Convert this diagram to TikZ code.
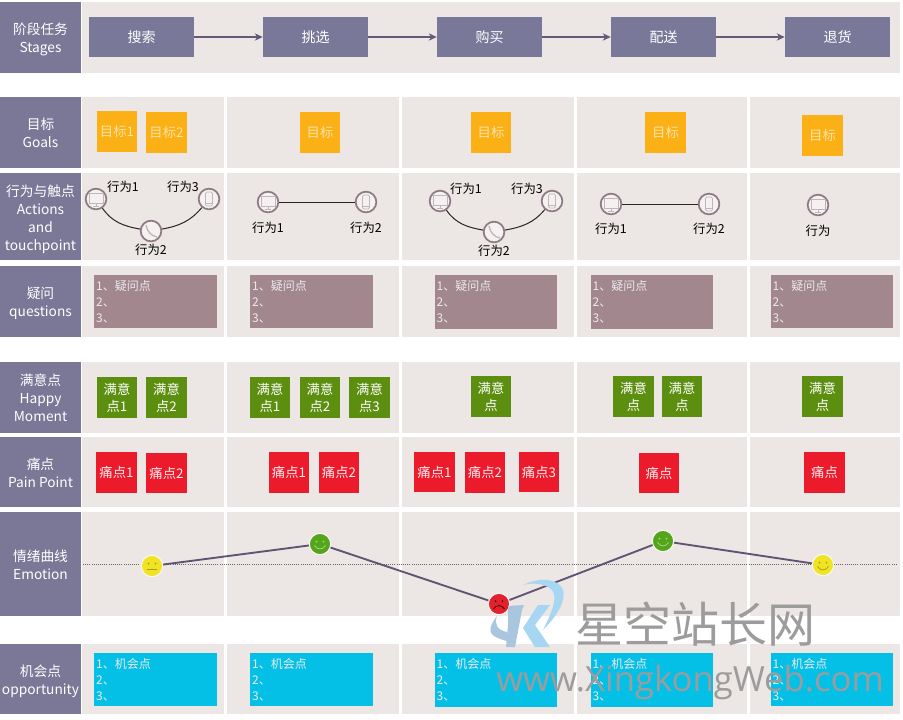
\documentclass[tikz,border=0pt]{standalone}
\usepackage{fontspec}
\setmainfont{Noto Sans CJK SC}
\newfontfamily\urlfont{Open Sans}
\usetikzlibrary{arrows.meta}
\definecolor{cLabel}{HTML}{7A7797}
\definecolor{cStage}{HTML}{7A7899}
\definecolor{cBand}{HTML}{ECE6E4}
\definecolor{cGoal}{HTML}{FBB116}
\definecolor{cGoalT}{HTML}{FBE2A6}
\definecolor{cQ}{HTML}{A2878F}
\definecolor{cHappy}{HTML}{5C8E10}
\definecolor{cPain}{HTML}{EC1B2B}
\definecolor{cOpp}{HTML}{05C0E6}
\definecolor{cLine}{HTML}{5F5472}
\definecolor{cRing}{HTML}{8C7A84}
\definecolor{cIcon}{HTML}{BDB6BA}
\definecolor{cYel}{HTML}{F0E324}
\definecolor{cGrn}{HTML}{55A51B}
\definecolor{cRed}{HTML}{E3202C}
\definecolor{cWm}{HTML}{9C9C9C}
\definecolor{cSw}{HTML}{A6D6F2}
\definecolor{cKk}{HTML}{A9C6DE}
\tikzset{
  x=0.75pt,y=-0.75pt,
  rowlabel/.style={text=white,align=center,font=\fontsize{10.3pt}{13.5pt}\selectfont,inner sep=0pt},
  stagebox/.style={fill=cStage,text=white,minimum width=78.75pt,minimum height=30pt,inner sep=0pt,font=\fontsize{10.5pt}{13pt}\selectfont},
  flowarrow/.style={draw=cLine!85!cStage,line width=1.3pt,-{Stealth[length=6pt,width=5.5pt]}},
  tile/.style={minimum width=30.5pt,minimum height=30.5pt,inner sep=0pt,align=center,font=\fontsize{10pt}{12.8pt}\selectfont},
  goalbox/.style={tile,fill=cGoal,text=cGoalT},
  happybox/.style={tile,fill=cHappy,text=white},
  painbox/.style={tile,fill=cPain,text=white!90!cPain},
  listbox/.style={minimum width=92pt,minimum height=40pt,inner xsep=1.5pt,inner ysep=0pt,text width=89pt,align=left,text=white!92!black,font=\fontsize{9pt}{12pt}\selectfont},
  qbox/.style={listbox,fill=cQ},
  oppbox/.style={listbox,fill=cOpp},
  touch/.style={circle,draw=cRing,fill=cBand!55!white,line width=1.3pt,minimum size=15.5pt,inner sep=0pt},
  action/.style={text=black,inner sep=0pt,font=\fontsize{9.3pt}{11pt}\selectfont},
  link/.style={draw=black!85,line width=0.75pt},
  face/.style={circle,minimum size=16pt,inner sep=0pt,draw=white!75!cBand,line width=0.8pt},
  emoline/.style={draw=cLine,line width=1.4pt},
  ico/.style={draw=cIcon,line width=0.55pt},
  feat/.style={line width=0.6pt},
}
\newcommand\icomon[1]{\begin{scope}[shift={(#1.center)}]
  \draw[ico] (-7,-6) rectangle (7,4); \draw[ico] (-3,7) -- (3,7); \draw[ico] (0,4) -- (0,7);
\end{scope}}
\newcommand\icomob[1]{\begin{scope}[shift={(#1.center)}]
  \draw[ico,rounded corners=1pt] (-3.5,-7) rectangle (3.5,7); \draw[ico] (-3.5,4.5) -- (3.5,4.5);
\end{scope}}
\newcommand\icotel[1]{\begin{scope}[shift={(#1.center)}]
  \draw[ico,line width=1pt] (-5,-6) .. controls (-4,0) and (0,5) .. (6,6);
\end{scope}}
\newcommand\facesmile[2]{\begin{scope}[shift={(#1.center)},#2]
  \fill (-3.5,-2.5) circle (1); \fill (3.5,-2.5) circle (1);
  \draw[feat] (-5.5,1.5) .. controls (-3,6) and (3,6) .. (5.5,1.5);
\end{scope}}
\newcommand\faceflat[2]{\begin{scope}[shift={(#1.center)},#2]
  \fill (-3.5,-2.5) circle (1); \fill (3.5,-2.5) circle (1);
  \draw[feat] (-5,3) -- (5,3);
\end{scope}}
\newcommand\facesad[2]{\begin{scope}[shift={(#1.center)},#2]
  \fill (-3.5,-3) circle (1); \fill (3.5,-3) circle (1);
  \draw[feat] (-5.5,5) .. controls (-3,0.5) and (3,0.5) .. (5.5,5);
\end{scope}}
\begin{document}
\begin{tikzpicture}
\useasboundingbox (0,0) rectangle (903,719);
\fill[white] (0,0) rectangle (903,719);

% cell backgrounds
\fill[cBand] (82,2) rectangle (900,73);
\foreach \ya/\yb in {97/168,173/260,266/337,362/433,437/507,512/616,644/714}{
  \foreach \xa/\xb in {82/224,227/399,402/574,577/747,750/900}{
    \fill[cBand] (\xa,\ya) rectangle (\xb,\yb);
  }
}

% row labels
\fill[cLabel] (0,2) rectangle node[rowlabel,yshift=-1.5pt] (lStages) {阶段任务\\Stages} (81,73);
\fill[cLabel] (0,97) rectangle node[rowlabel] (lGoals) {目标\\Goals} (81,168);
\fill[cLabel] (0,173) rectangle node[rowlabel,yshift=-2.2pt] (lActions) {行为与触点\\Actions\\and\\touchpoint} (81,260);
\fill[cLabel] (0,266) rectangle node[rowlabel,yshift=-1.5pt] (lQuestions) {疑问\\questions} (81,337);
\fill[cLabel] (0,362) rectangle node[rowlabel] (lHappy) {满意点\\Happy\\Moment} (81,433);
\fill[cLabel] (0,437) rectangle node[rowlabel,yshift=-0.75pt] (lPain) {痛点\\Pain Point} (81,507);
\fill[cLabel] (0,512) rectangle node[rowlabel,yshift=-0.75pt] (lEmotion) {情绪曲线\\Emotion} (81,616);
\fill[cLabel] (0,644) rectangle node[rowlabel,yshift=-1.5pt] (lOpp) {机会点\\opportunity} (81,714);

% stages
\node[stagebox] (s1) at (141.5,37) {\raisebox{-1pt}{搜索}};
\node[stagebox] (s2) at (315.5,37) {\raisebox{-1pt}{挑选}};
\node[stagebox] (s3) at (489.5,37) {\raisebox{-1pt}{购买}};
\node[stagebox] (s4) at (663.5,37) {\raisebox{-1pt}{配送}};
\node[stagebox] (s5) at (837.5,37) {\raisebox{-1pt}{退货}};
\draw[flowarrow] (s1) -- (s2);
\draw[flowarrow] (s2) -- (s3);
\draw[flowarrow] (s3) -- (s4);
\draw[flowarrow] (s4) -- (s5);

% goals
\node[goalbox] (g1) at (117,131.5) {目标1};
\node[goalbox] (g2) at (166.5,132.5) {目标2};
\node[goalbox] (g3) at (320,132.5) {目标};
\node[goalbox] (g4) at (491,132.5) {目标};
\node[goalbox] (g5) at (665.5,132.5) {目标};
\node[goalbox] (g6) at (822.5,135.5) {目标};

% actions
\node[touch] (a1) at (96,199) {};
\node[touch] (a2) at (151,231) {};
\node[touch] (a3) at (209,199) {};
\node[touch] (b1) at (268,202) {};
\node[touch] (b2) at (366,202) {};
\node[touch] (c1) at (440,201) {};
\node[touch] (c2) at (494,232) {};
\node[touch] (c3) at (552,201) {};
\node[touch] (d1) at (611,204) {};
\node[touch] (d2) at (709,204) {};
\node[touch] (e1) at (818,205) {};
\draw[link] (a1) to[out=-55,in=170] (a2);
\draw[link] (a2) to[out=10,in=-130] (a3);
\draw[link] (b1) -- (b2);
\draw[link] (c1) to[out=-55,in=170] (c2);
\draw[link] (c2) to[out=10,in=-130] (c3);
\draw[link] (d1) -- (d2);
\icomon{a1}\icotel{a2}\icomob{a3}
\icomon{b1}\icomob{b2}
\icomon{c1}\icotel{c2}\icomob{c3}
\icomon{d1}\icomob{d2}
\icomon{e1}
\node[action] (ta1) at (123,187) {行为1};
\node[action] (ta3) at (183,187) {行为3};
\node[action] (ta2) at (151,250) {行为2};
\node[action] (tb1) at (268,228) {行为1};
\node[action] (tb2) at (366,228) {行为2};
\node[action] (tc1) at (466,189) {行为1};
\node[action] (tc3) at (527,189) {行为3};
\node[action] (tc2) at (494,251) {行为2};
\node[action] (td1) at (611,229) {行为1};
\node[action] (td2) at (709,229) {行为2};
\node[action] (te1) at (818,231) {行为};

% questions
\node[qbox] (q1) at (155.5,301.5) {1、疑问点\\2、\\3、};
\node[qbox] (q2) at (311.5,301.5) {1、疑问点\\2、\\3、};
\node[qbox] (q3) at (496,302) {1、疑问点\\2、\\3、};
\node[qbox] (q4) at (652,302) {1、疑问点\\2、\\3、};
\node[qbox] (q5) at (832,301.5) {1、疑问点\\2、\\3、};

% happy moments
\node[happybox] (h1) at (117,397.5) {满意\\点1};
\node[happybox] (h2) at (166.5,397.5) {满意\\点2};
\node[happybox] (h3) at (270,397.5) {满意\\点1};
\node[happybox] (h4) at (320,397.5) {满意\\点2};
\node[happybox] (h5) at (369.5,397.5) {满意\\点3};
\node[happybox] (h6) at (491,396.5) {满意\\点};
\node[happybox] (h7) at (633.5,396.5) {满意\\点};
\node[happybox] (h8) at (682,396.5) {满意\\点};
\node[happybox] (h9) at (822.5,396.5) {满意\\点};

% pain points
\node[painbox] (p1) at (116.5,472.5) {痛点1};
\node[painbox] (p2) at (166.5,473) {痛点2};
\node[painbox] (p3) at (289,472.5) {痛点1};
\node[painbox] (p4) at (339,472.5) {痛点2};
\node[painbox] (p5) at (434.5,472) {痛点1};
\node[painbox] (p6) at (485,472.5) {痛点2};
\node[painbox] (p7) at (539,472) {痛点3};
\node[painbox] (p8) at (659,473) {痛点};
\node[painbox] (p9) at (824.5,472.5) {痛点};

% emotion
\coordinate (dotL) at (83,564.5);
\coordinate (dotR) at (896,564.5);
\draw[black!60,line width=0.6pt,densely dotted] (dotL) -- (dotR);
\node[face,fill=cYel] (f1) at (152,566) {};
\node[face,fill=cGrn] (f2) at (320,544) {};
\node[face,fill=cRed] (f3) at (499,604) {};
\node[face,fill=cGrn] (f4) at (663,541) {};
\node[face,fill=cYel] (f5) at (823,565) {};
\draw[emoline] (f1) -- (f2);
\draw[emoline] (f2) -- (f3);
\draw[emoline] (f3) -- (f4);
\draw[emoline] (f4) -- (f5);
\faceflat{f1}{draw=cYel!70!black,fill=cYel!70!black}
\facesmile{f2}{draw=cGrn!50!white,fill=cGrn!50!white}
\facesad{f3}{draw=black!70!cRed,fill=black!70!cRed}
\facesmile{f4}{draw=cGrn!50!white,fill=cGrn!50!white}
\facesmile{f5}{draw=cYel!70!black,fill=cYel!70!black}

% opportunities
\node[oppbox] (o1) at (155.5,679.5) {1、机会点\\2、\\3、};
\node[oppbox] (o2) at (311.5,679.5) {1、机会点\\2、\\3、};
\node[oppbox] (o3) at (496,680) {1、机会点\\2、\\3、};
\node[oppbox] (o4) at (652,680) {1、机会点\\2、\\3、};
\node[oppbox] (o5) at (832,679.5) {1、机会点\\2、\\3、};

% watermark logo
\fill[cSw] (523,585) .. controls (540,577) and (558,578) .. (563,590)
  .. controls (566,600) and (558,615) .. (543,630)
  .. controls (552,612) and (558,598) .. (552,590)
  .. controls (546,584) and (534,582) .. (523,585) -- cycle;
\fill[cKk] (508,606) -- (524,605) -- (522,610) -- (515,647) -- (506,647) -- (508,625) -- cycle;
\fill[cKk] (497,616) .. controls (490,625) and (488,632) .. (494,636)
  .. controls (497,638) and (503,640) .. (507,641) -- (507,632)
  .. controls (497,630) and (494,624) .. (497,616) -- cycle;
\fill[cSw] (538,605) -- (550,605) -- (535,625) -- (550,647) -- (535,647) -- (523,628) -- cycle;

% watermark text
\node[text=cWm,inner sep=0pt,font=\fontsize{36pt}{40pt}\selectfont] (wm1) at (695,624) {星空站长网};
\node[text=cWm,inner sep=0pt,font=\urlfont\fontsize{26pt}{30pt}\selectfont] (wm2) at (690,682) {www.XingkongWeb.com};
\end{tikzpicture}
\end{document}
